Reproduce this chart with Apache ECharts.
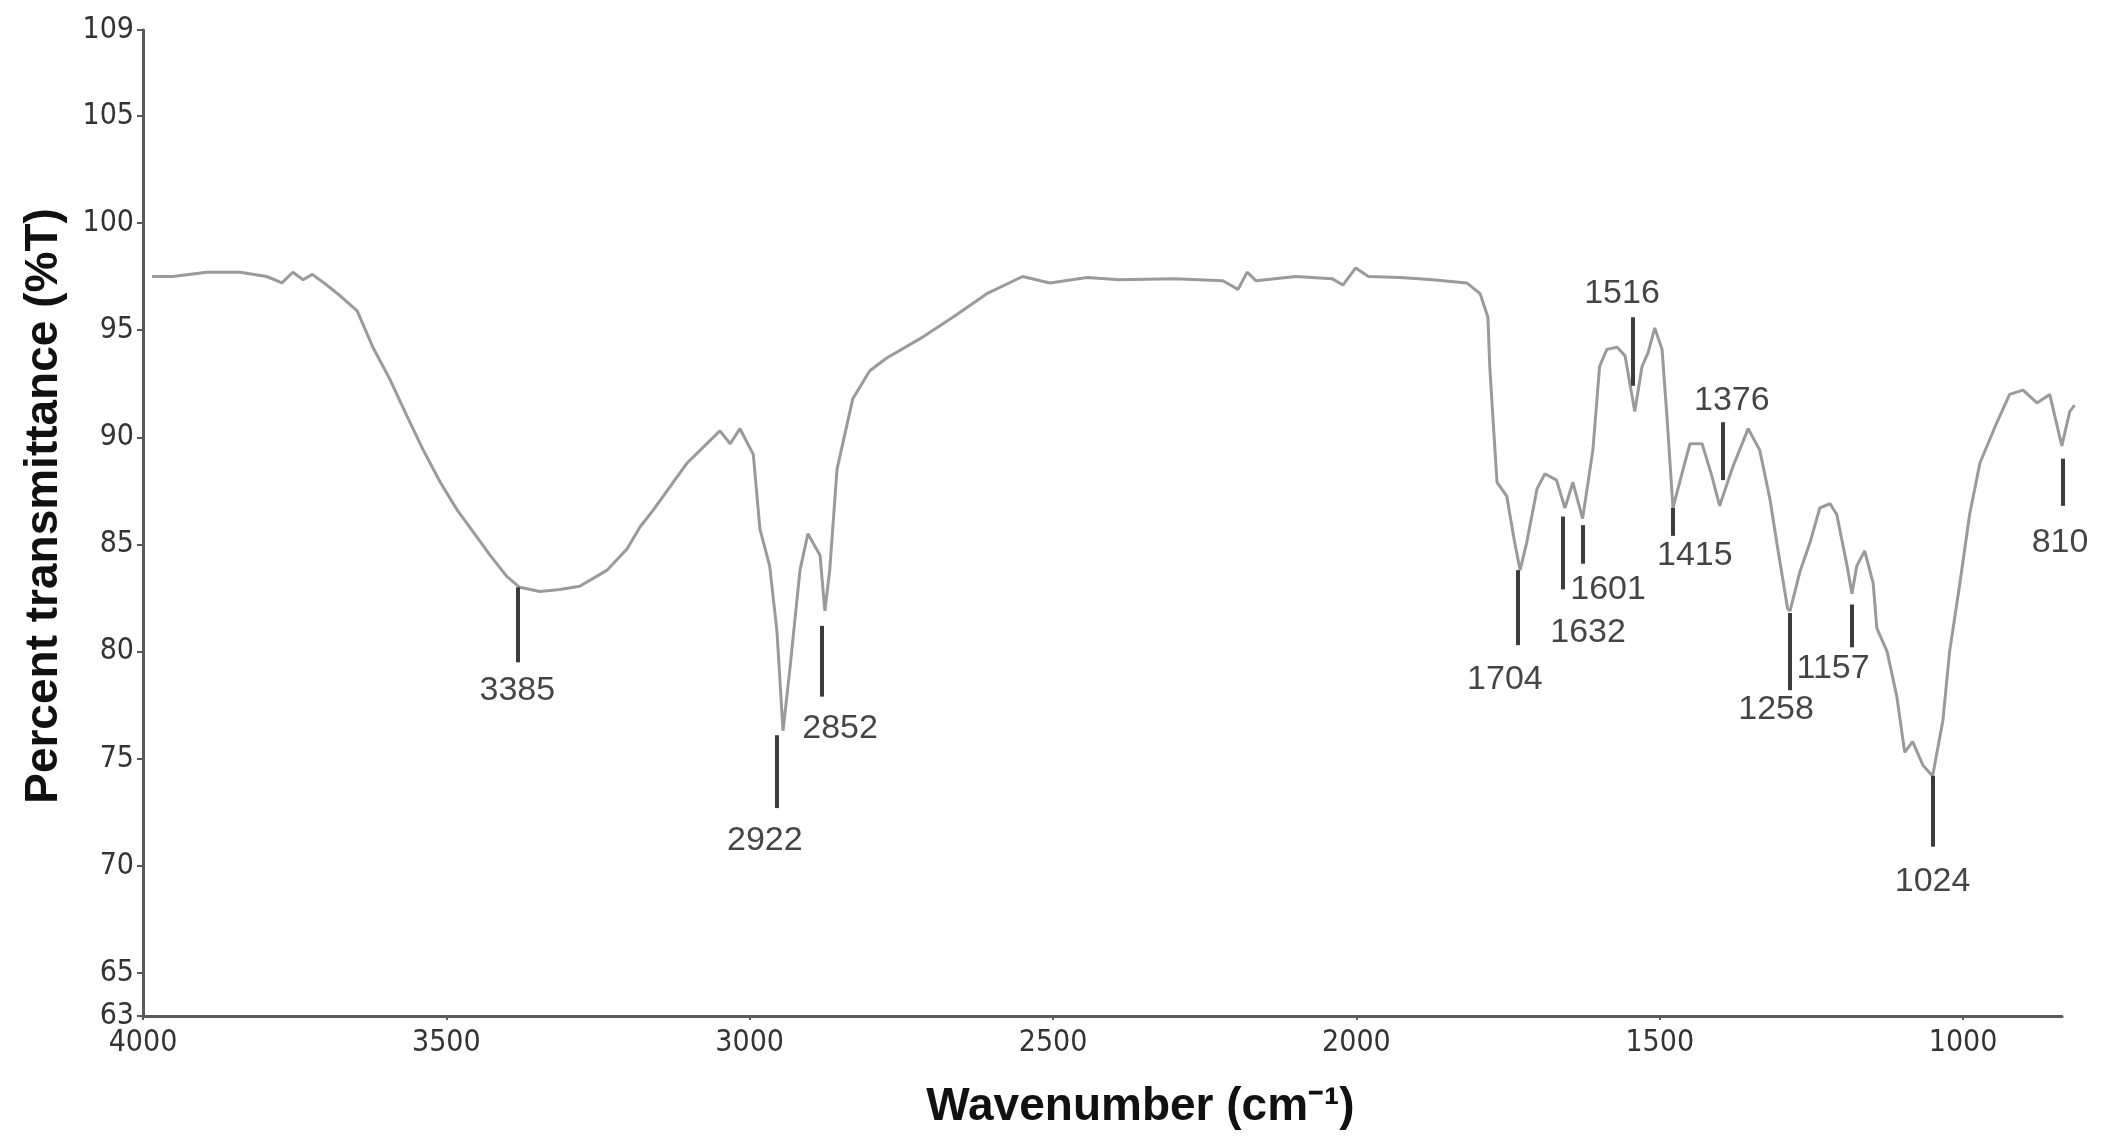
<!DOCTYPE html>
<html>
<head>
<meta charset="utf-8">
<script src="https://cdn.jsdelivr.net/npm/echarts@6/dist/echarts.min.js"></script>
<style>
  html, body { margin: 0; padding: 0; background: #fff; }
  #chart { width: 2110px; height: 1146px; }
</style>
</head>
<body>
<div id="chart"></div>
<script>
// spectrum: [wavenumber (axis units), %T]
var spectrum = [
  [3985, 97.5], [3951, 97.5], [3895, 97.7], [3840, 97.7], [3796, 97.5], [3771, 97.2],
  [3753, 97.7], [3736, 97.35], [3721, 97.6], [3697, 97.1], [3675, 96.6], [3647, 95.9],
  [3621, 94.2], [3593, 92.7], [3565, 91.0], [3538, 89.4], [3510, 87.9], [3482, 86.6],
  [3456, 85.6], [3428, 84.5], [3400, 83.5], [3379, 83.0], [3346, 82.8], [3313, 82.9],
  [3280, 83.05], [3235, 83.8], [3202, 84.8], [3181, 85.8], [3159, 86.6], [3103, 88.8],
  [3049, 90.3], [3032, 89.7], [3016, 90.4], [2994, 89.2], [2983, 85.7], [2967, 84.0],
  [2955, 80.95], [2945, 76.3], [2934, 79.1], [2917, 83.8], [2904, 85.5], [2884, 84.5],
  [2876, 81.9], [2868, 83.8], [2856, 88.5], [2830, 91.8], [2802, 93.1], [2774, 93.7],
  [2719, 94.6], [2665, 95.6], [2609, 96.7], [2550, 97.5], [2505, 97.2], [2444, 97.45],
  [2390, 97.35], [2300, 97.4], [2220, 97.3], [2195, 96.9], [2180, 97.7], [2165, 97.3],
  [2100, 97.5], [2040, 97.4], [2022, 97.1], [2001, 97.9], [1980, 97.5], [1928, 97.45],
  [1874, 97.35], [1818, 97.2], [1796, 96.7], [1783, 95.6], [1780, 93.3], [1775, 91.0],
  [1768, 87.9], [1752, 87.25], [1739, 85.1], [1730, 83.8], [1719, 85.1], [1702, 87.6],
  [1689, 88.3], [1670, 88.0], [1656, 86.7], [1643, 87.9], [1627, 86.2], [1610, 89.4],
  [1599, 93.3], [1587, 94.1], [1570, 94.2], [1557, 93.8], [1541, 91.2], [1529, 93.3],
  [1519, 93.95], [1508, 95.1], [1496, 94.1], [1488, 91.0], [1478, 86.7], [1467, 87.9],
  [1450, 89.7], [1430, 89.7], [1414, 88.2], [1401, 86.8], [1379, 88.65], [1354, 90.4],
  [1335, 89.4], [1318, 87.1], [1307, 85.1], [1289, 82.0], [1285, 81.9], [1269, 83.7],
  [1252, 85.1], [1236, 86.7], [1219, 86.9], [1208, 86.4], [1191, 84.0], [1183, 82.7],
  [1175, 84.0], [1162, 84.7], [1148, 83.2], [1142, 81.1], [1125, 80.0], [1109, 77.9],
  [1096, 75.3], [1083, 75.8], [1066, 74.7], [1050, 74.2], [1033, 76.8], [1022, 80.0],
  [1005, 83.2], [989, 86.4], [972, 88.8], [944, 90.7], [923, 92.0], [901, 92.2],
  [878, 91.6], [857, 92.0], [837, 89.6], [824, 91.2], [816, 91.5]
];

// peak annotations
var peakNames  = ['3385', '2922', '2852', '1704', '1632', '1601', '1516', '1415', '1376', '1258', '1157', '1024', '810'];
var peakX      = [3382, 2955, 2881, 1734, 1659, 1626, 1544, 1478, 1396, 1285, 1183, 1050, 835];
var peakTop    = [83.0, 76.1, 81.2, 83.8, 86.3, 85.9, 95.6, 86.7, 90.7, 81.8, 82.2, 74.2, 89.0];
var peakBottom = [79.5, 72.7, 77.9, 80.3, 82.9, 84.1, 92.4, 85.4, 88.0, 78.2, 80.2, 70.9, 86.8];
var labelX     = [3383, 2975, 2851, 1755, 1618, 1585, 1562, 1442, 1381, 1308, 1214, 1050, 840];
var labelY     = [78.2, 71.2, 76.4, 78.7, 80.9, 82.9, 96.7, 84.5, 91.7, 77.3, 79.2, 69.25, 85.1];

var yTicks = [63, 65, 70, 75, 80, 85, 90, 95, 100, 105, 109];
var xTicks = [4000, 3500, 3000, 2500, 2000, 1500, 1000];

var tickFont = '"Liberation Sans Narrow", "DejaVu Sans Condensed", "Liberation Sans", Arial, sans-serif';
var mainFont = '"Liberation Sans", Arial, sans-serif';

var chart = echarts.init(document.getElementById('chart'));

var peakLines = peakNames.map(function (n, i) {
  return [{ coord: [peakX[i], peakTop[i]] }, { coord: [peakX[i], peakBottom[i]] }];
});
var peakLabels = peakNames.map(function (n, i) {
  return { name: n, value: [labelX[i], labelY[i]] };
});

chart.setOption({
  animation: false,
  backgroundColor: '#fff',
  grid: [
    // frame with the visible axes (axis line stops at ~837)
    { left: 143, right: 48, top: 30, bottom: 130, outerBoundsMode: 'none' },
    // same scale, slightly wider, so the trace can run past the axis end like in the original
    { left: 143, right: 33, top: 30, bottom: 130, outerBoundsMode: 'none' }
  ],
  xAxis: [
    {
      gridIndex: 0,
      type: 'value',
      inverse: true,
      min: 837,
      max: 4000,
      name: 'Wavenumber (cm⁻¹)',
      nameLocation: 'middle',
      nameGap: 68,
      nameTextStyle: { fontFamily: mainFont, fontWeight: 'bold', fontSize: 46, color: '#111', padding: [0, 0, 0, 76] },
      axisLine: { lineStyle: { color: '#5a5a5a', width: 3 } },
      axisTick: { show: true, length: 4, customValues: xTicks, lineStyle: { color: '#5a5a5a', width: 2 } },
      axisLabel: {
        customValues: xTicks, margin: 12, fontFamily: tickFont, fontSize: 30, color: '#333',
        formatter: function (v) { return String(v); }
      },
      splitLine: { show: false }
    },
    {
      gridIndex: 1,
      type: 'value',
      inverse: true,
      min: 812,
      max: 4000,
      show: false
    }
  ],
  yAxis: [
    {
      gridIndex: 0,
      type: 'value',
      min: 63,
      max: 109,
      name: 'Percent transmittance (%T)',
      nameLocation: 'middle',
      nameGap: 76,
      nameTextStyle: { fontFamily: mainFont, fontWeight: 'bold', fontSize: 46, color: '#111', padding: [0, 0, 0, 34] },
      axisLine: { show: true, lineStyle: { color: '#5a5a5a', width: 3 } },
      axisTick: { show: true, length: 6, customValues: yTicks, lineStyle: { color: '#5a5a5a', width: 2 } },
      axisLabel: { customValues: yTicks, margin: 9, fontFamily: tickFont, fontSize: 30, color: '#333' },
      splitLine: { show: false }
    },
    {
      gridIndex: 1,
      type: 'value',
      min: 63,
      max: 109,
      show: false
    }
  ],
  series: [
    {
      type: 'line',
      xAxisIndex: 1,
      yAxisIndex: 1,
      data: spectrum,
      showSymbol: false,
      lineStyle: { color: '#9a9a9a', width: 3 },
      markLine: {
        silent: true,
        symbol: ['none', 'none'],
        label: { show: false },
        lineStyle: { color: '#3c3c3c', width: 4, type: 'solid' },
        data: peakLines
      }
    },
    {
      type: 'scatter',
      xAxisIndex: 1,
      yAxisIndex: 1,
      data: peakLabels,
      symbolSize: 0,
      silent: true,
      label: {
        show: true,
        position: 'inside',
        formatter: '{b}',
        fontFamily: mainFont,
        fontSize: 34,
        color: '#151515'
      }
    }
  ]
});
</script>
</body>
</html>
